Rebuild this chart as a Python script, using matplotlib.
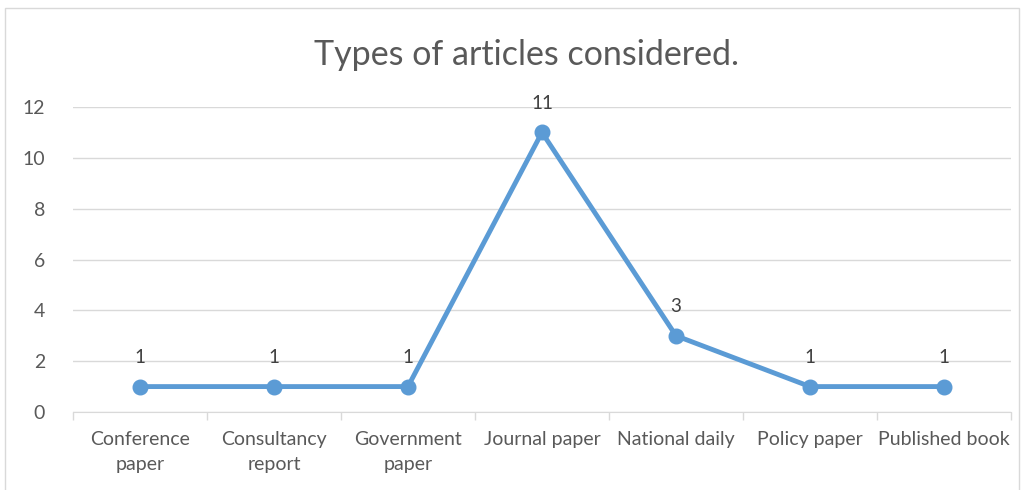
import matplotlib.pyplot as plt
from matplotlib.patches import Rectangle

categories = ["Conference\npaper", "Consultancy\nreport", "Government\npaper",
              "Journal paper", "National daily", "Policy paper", "Published book"]
counts = [1, 1, 1, 11, 3, 1, 1]

plt.rcParams["font.family"] = ["Lato", "DejaVu Sans"]
TXT = "#595959"
BLUE = "#5B9BD5"

fig = plt.figure(figsize=(10.29, 4.9), dpi=100)
fig.patches.append(Rectangle((5 / 1029, -0.05), 1014 / 1029, 1.05 - 8 / 490,
                             transform=fig.transFigure, fill=False,
                             edgecolor="#D9D9D9", lw=1))
ax = fig.add_axes([0.0709, 0.1592, 0.9116, 0.6224])

x = range(len(categories))
ax.plot(x, counts, "-o", color=BLUE, lw=3.5, ms=10.5, zorder=3)
for xi, v in zip(x, counts):
    ax.annotate(str(v), (xi, v), xytext=(0, 17), textcoords="offset points",
                ha="center", fontsize=13.5, color="#404040")

ax.set_xlim(-0.5, len(categories) - 0.5)
ax.set_ylim(0, 12)
ax.set_yticks(range(0, 13, 2))
ax.set_xticks(list(x))
ax.set_xticklabels(categories, fontsize=14, color=TXT, linespacing=1.55)
ax.tick_params(axis="y", length=0, labelsize=14, labelcolor=TXT, pad=20)
ax.tick_params(axis="x", length=0, pad=14)
ax.set_xticks([i - 0.5 for i in range(len(categories) + 1)], minor=True)
ax.tick_params(axis="x", which="minor", length=6, color="#D9D9D9", width=1)
ax.grid(axis="y", color="#D9D9D9", lw=1)
ax.set_axisbelow(True)
for s in ["top", "right", "left"]:
    ax.spines[s].set_visible(False)
ax.spines["bottom"].set_color("#D9D9D9")

fig.text(0.512, 0.888, "Types of articles considered.", ha="center", va="center",
         fontsize=24.5, color=TXT)

fig.savefig("out.png", dpi=100)
